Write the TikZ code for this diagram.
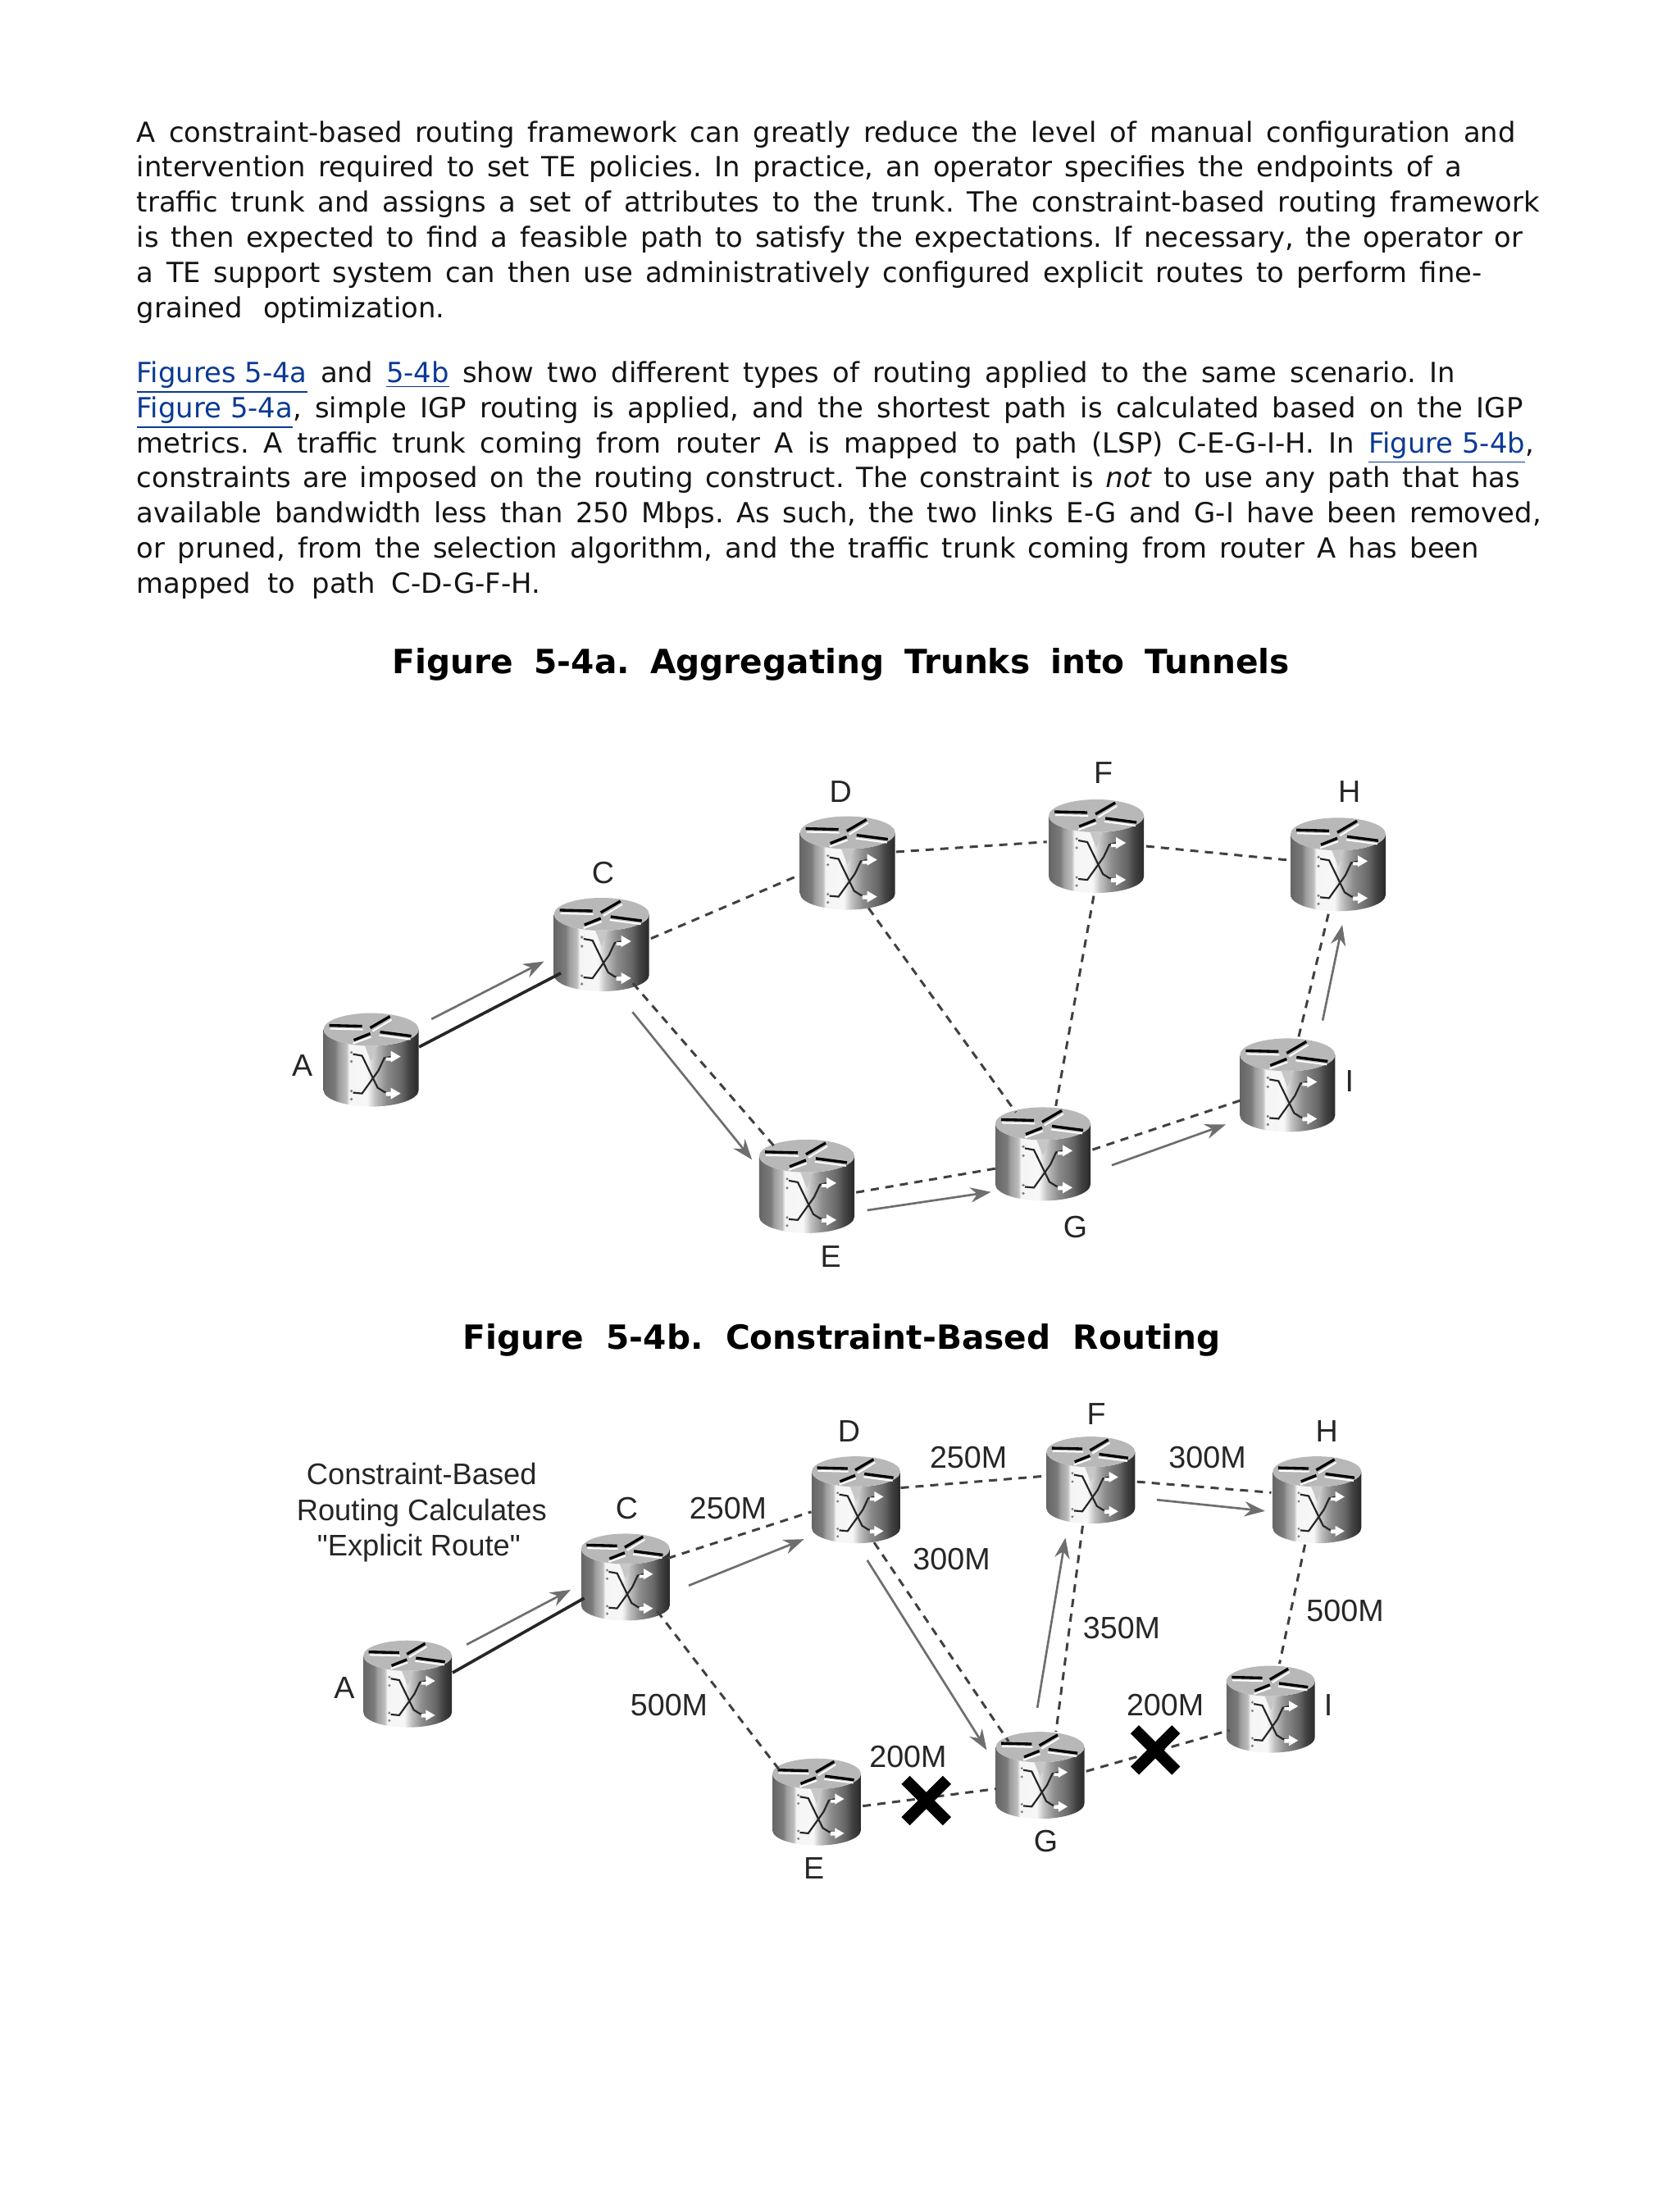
\documentclass[tikz,border=0pt]{standalone}
\usepackage{fontspec}
\setmainfont{DejaVu Sans}
\newfontfamily\lblfont{Liberation Sans}
\usetikzlibrary{arrows.meta,shapes.misc}
\definecolor{linkblue}{HTML}{0B3A94}
\definecolor{topgray}{HTML}{B8B8B8}
\definecolor{flowgray}{HTML}{6E6E6E}
\newdimen\upx \upx=0.51416pt
\pgfdeclarehorizontalshading{routerside}{100bp}{
  color(0bp)=(black!60);color(25bp)=(black!60);color(31bp)=(black!52);color(33bp)=(black!38);
  color(37bp)=(black!26);color(38.5bp)=(black!4);color(48bp)=(black!3);color(52bp)=(black!24);
  color(58bp)=(black!45);color(66bp)=(black!60);color(70bp)=(black!74);color(75bp)=(black!84);color(100bp)=(black!84)}
\tikzset{
  x=0.51416pt,y=-0.51416pt,
  routernode/.style={circle,inner sep=0pt,minimum size=#1*\upx},
  textline/.style={anchor=base west,inner sep=0pt,font=\fontsize{10.15pt}{12pt}\selectfont,text=black!92},
  headline/.style={anchor=base west,inner sep=0pt,font=\fontsize{12.2pt}{14pt}\selectfont\bfseries},
  lbl/.style={inner sep=0pt,font=\lblfont\fontsize{11.3pt}{14pt}\selectfont,text=black!85},
  capline/.style={anchor=base,inner sep=0pt,font=\lblfont\fontsize{10.9pt}{14pt}\selectfont,text=black!85},
  link/.style={dash pattern=on 3pt off 2.4pt,line width=0.9pt,draw=black!75},
  solidlink/.style={line width=1.1pt,draw=black!85},
  flow/.style={line width=0.8pt,draw=flowgray,-{Stealth[length=7.5pt,width=5.5pt]}},
  knock/.style={cross out,draw=black,line width=4.3pt,minimum size=21\upx,inner sep=0pt},
}
\newcommand{\lnk}[1]{\textcolor{linkblue}{\underline{#1}}}
\newcommand{\tline}[4]{\node[textline] (#1) at (97,#2) {\frenchspacing\makebox[#3\upx][s]{#4}};}
\newcommand{\router}[4]{%
  \node[routernode=#4*70] (#1) at (#2,#3) {};
  \begin{scope}[shift={(#2,#3)},scale=0.5835*#4]
    \shade[shading=routerside] (-58,-37) -- (-58,37) arc[start angle=180,end angle=0,x radius=58,y radius=20]
      -- (58,-37) arc[start angle=0,end angle=180,x radius=58,y radius=20] -- cycle;
    \fill[topgray] (0,-37) ellipse[x radius=58,y radius=20];
    \fill[black!22] (-8,-18) -- (8,-18) -- (0,2) -- cycle;
    \draw[white,line width=0.6pt] (-50,-38) -- (-10,-37) (2,-35) -- (25,-49) (10,-30) -- (48,-25) (-22,-20) -- (0,-28);
    \draw[black,line width=1pt] (-51,-42) -- (-11,-41) (-1,-39) -- (23,-53) (11,-34) -- (49,-29) (-21,-24) -- (-1,-32);
    \draw[black!85,line width=0.65pt] (-22,-7) -- (-11,-5) -- (8,34) -- (16,39) -- (25,41);
    \draw[black!85,line width=0.65pt] (-22,40) -- (-11,41) -- (9,13) -- (16,-2) -- (25,-4);
    \fill[white] (18,-3) -- (24,-3) -- (24,-11) -- (36,-4) -- (24,3) -- (24,1) -- (18,1) -- cycle
                 (18,39) -- (24,39) -- (24,34) -- (36,41) -- (24,48) -- (24,44) -- (18,44) -- cycle;
    \fill[black!50] (-24,-9) circle[radius=1.8] (-24,2) circle[radius=1.8] (-24,38) circle[radius=1.8] (-24,48) circle[radius=1.8];
  \end{scope}}
\begin{document}
\begin{tikzpicture}
\useasboundingbox (0,0) rectangle (1194.67,1568);
% text
\tline{l1}{101}{981}{A constraint-based routing framework can greatly reduce the level of manual configuration and}
\tline{l2}{126}{943}{intervention required to set TE policies. In practice, an operator specifies the endpoints of a}
\tline{l3}{151}{998}{traffic trunk and assigns a set of attributes to the trunk. The constraint-based routing framework}
\tline{l4}{176}{986}{is then expected to find a feasible path to satisfy the expectations. If necessary, the operator or}
\tline{l5}{201}{957}{a TE support system can then use administratively configured explicit routes to perform fine-}
\tline{l6}{226}{219}{grained optimization.}
\tline{m1}{272}{938}{\lnk{Figures 5-4a} and \lnk{5-4b} show two different types of routing applied to the same scenario. In}
\tline{m2}{297}{986}{\lnk{Figure 5-4a}, simple IGP routing is applied, and the shortest path is calculated based on the IGP}
\tline{m3}{322}{994}{metrics. A traffic trunk coming from router A is mapped to path (LSP) C-E-G-I-H. In \lnk{Figure 5-4b},}
\tline{m4}{347}{984}{constraints are imposed on the routing construct. The constraint is \emph{not} to use any path that has}
\tline{m5}{372}{999}{available bandwidth less than 250 Mbps. As such, the two links E-G and G-I have been removed,}
\tline{m6}{397}{955}{or pruned, from the selection algorithm, and the traffic trunk coming from router A has been}
\tline{m7}{422}{287}{mapped to path C-D-G-F-H.}
\node[headline] (h1) at (279,479) {\frenchspacing\makebox[638\upx][s]{Figure 5-4a. Aggregating Trunks into Tunnels}};
\node[headline] (h2) at (329,960) {\frenchspacing\makebox[539\upx][s]{Figure 5-4b. Constraint-Based Routing}};
% Figure a routers
\router{aA}{264}{754}{1}
\router{aC}{428}{672}{1}
\router{aD}{603}{614}{1}
\router{aF}{780}{602}{1}
\router{aH}{952}{615}{1}
\router{aE}{574}{844}{1}
\router{aG}{742}{821}{1}
\router{aI}{916}{772}{1}
\node[lbl] (laA) at (215,758) {A};
\node[lbl] (laC) at (429,621) {C};
\node[lbl] (laD) at (598,563) {D};
\node[lbl] (laF) at (785,550) {F};
\node[lbl] (laH) at (960,563) {H};
\node[lbl] (laI) at (960,769) {I};
\node[lbl] (laG) at (765,873) {G};
\node[lbl] (laE) at (591,894) {E};
\draw[solidlink] (aA.15) -- (aC.215);
\draw[link] (aC.7) -- (aD.194);
\draw[link] (aD.13) -- (aF.175);
\draw[link] (aF.0) -- (aH.175);
\draw[link] (aD.-65) -- (aG.123);
\draw[link] (aF.-93) -- (aG.75);
\draw[link] (aC.-51) -- (aE.129);
\draw[link] (aE.-7) -- (aG.197);
\draw[link] (aG.5) -- (aI.198);
\draw[link] (aI.77) -- (aH.259);
\coordinate (fa1) at (307,725); \coordinate (fa2) at (387,684);
\coordinate (fa3) at (450,720); \coordinate (fa4) at (535,825);
\coordinate (fa5) at (617,861); \coordinate (fa6) at (705,848);
\coordinate (fa7) at (791,829); \coordinate (fa8) at (872,800);
\coordinate (fa9) at (941,726); \coordinate (fa10) at (955,658);
\draw[flow] (fa1) -- (fa2);
\draw[flow] (fa3) -- (fa4);
\draw[flow] (fa5) -- (fa6);
\draw[flow] (fa7) -- (fa8);
\draw[flow] (fa9) -- (fa10);
% Figure b routers
\router{bA}{290}{1198}{.93}
\router{bC}{445}{1122}{.93}
\router{bD}{609}{1067}{.93}
\router{bF}{776}{1053}{.93}
\router{bH}{937}{1067}{.93}
\router{bE}{581}{1282}{.93}
\router{bG}{740}{1263}{.93}
\router{bI}{904}{1216}{.93}
\node[lbl] (lbA) at (245,1201) {A};
\node[lbl] (lbC) at (446,1073) {C};
\node[lbl] (lbD) at (604,1018) {D};
\node[lbl] (lbF) at (780,1006) {F};
\node[lbl] (lbH) at (944,1018) {H};
\node[lbl] (lbI) at (945,1213) {I};
\node[lbl] (lbG) at (744,1310) {G};
\node[lbl] (lbE) at (579,1329) {E};
\node[lbl] (w1) at (518,1073) {250M};
\node[lbl] (w2) at (689,1037) {250M};
\node[lbl] (w3) at (859,1037) {300M};
\node[lbl] (w4) at (677,1109) {300M};
\node[lbl] (w5) at (798,1158) {350M};
\node[lbl] (w6) at (957,1146) {500M};
\node[lbl] (w7) at (476,1213) {500M};
\node[lbl] (w8) at (646,1250) {200M};
\node[lbl] (w9) at (829,1213) {200M};
\node[capline] (c1) at (300,1056) {Constraint-Based};
\node[capline] (c2) at (300,1082) {Routing Calculates};
\node[capline] (c3) at (298,1107) {"Explicit Route"};
\draw[solidlink] (bA.14) -- (bC.207);
\draw[link] (bC.24) -- (bD.195);
\draw[link] (bD.15) -- (bF.175);
\draw[link] (bF.-2) -- (bH.171);
\draw[link] (bD.-67) -- (bG.133);
\draw[link] (bF.-100) -- (bG.70);
\draw[link] (bC.-47) -- (bE.140);
\draw[link] (bE.-5) -- (bG.197);
\draw[link] (bG.5) -- (bI.207);
\draw[link] (bH.255) -- (bI.79);
\coordinate (fb1) at (332,1170); \coordinate (fb2) at (406,1131);
\coordinate (fb3) at (490,1128); \coordinate (fb4) at (572,1095);
\coordinate (fb5) at (823,1067); \coordinate (fb6) at (900,1075);
\coordinate (fb7) at (617,1110); \coordinate (fb8) at (702,1245);
\coordinate (fb9) at (738,1215); \coordinate (fb10) at (758,1094);
\draw[flow] (fb1) -- (fb2);
\draw[flow] (fb3) -- (fb4);
\draw[flow] (fb5) -- (fb6);
\draw[flow] (fb7) -- (fb8);
\draw[flow] (fb9) -- (fb10);
\node[knock] (x1) at (659,1281) {};
\node[knock] (x2) at (822,1245) {};
\end{tikzpicture}
\end{document}
